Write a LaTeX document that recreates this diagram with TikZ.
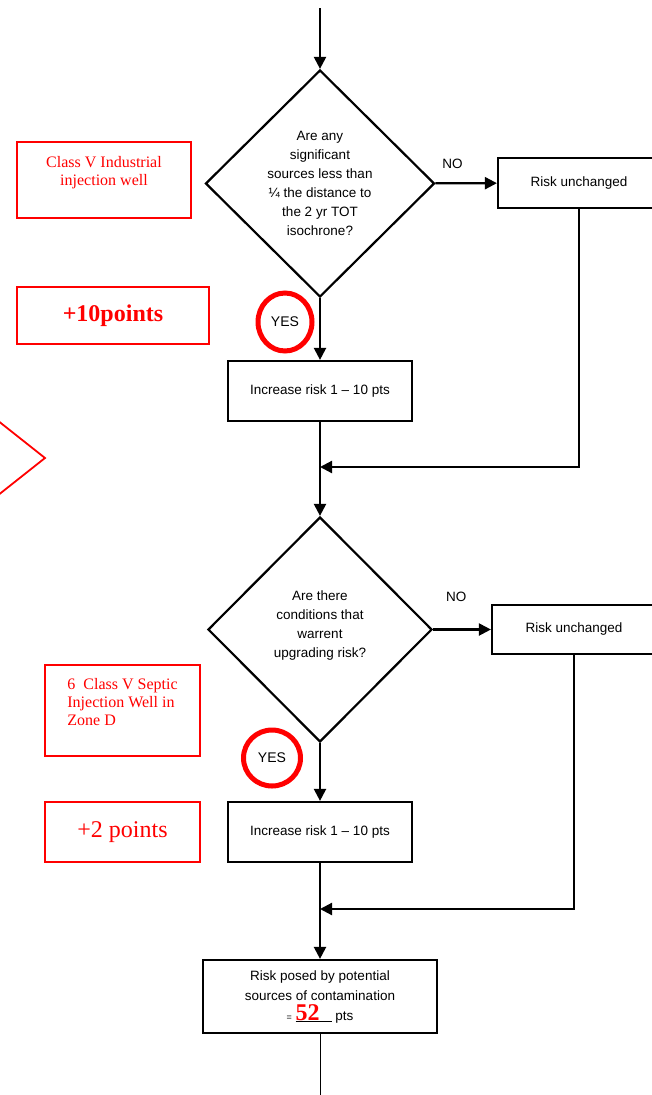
\documentclass[tikz,border=0pt]{standalone}
\usepackage{fontspec}
\setmainfont{Liberation Sans}
\newfontfamily\notefont{Liberation Serif}
\usetikzlibrary{shapes.geometric,arrows.meta}

\begin{document}
\begin{tikzpicture}[x=1pt,y=-1pt,line width=2.2pt,
	flow/.style={-{Triangle[length=12pt,width=12pt]}},
	decision/.style={draw,diamond,aspect=1,inner sep=0pt,align=center,font=\fontsize{13.5}{19}\selectfont},
	stepbox/.style={draw,rectangle,inner sep=0pt,align=center,font=\fontsize{13.5}{20}\selectfont},
	note/.style={draw=red,line width=1.8pt,rectangle,inner sep=0pt,align=center,text=red,font=\notefont\fontsize{16}{18}\selectfont},
	ring/.style={draw=red,line width=5pt,ellipse,inner sep=0pt,font=\fontsize{14}{14}\selectfont}]
			\useasboundingbox (0,0) rectangle (652,1095);
			\coordinate (top) at (320,8);
			\node[decision,minimum width=229pt,minimum height=227pt] (q1) at (320,183.5) {Are any\\significant\\sources less than\\¼ the distance to\\the 2 yr TOT\\isochrone?};
			\node[stepbox,minimum width=162pt,minimum height=50pt] (no1) at (579,183) {Risk unchanged};
			\node[stepbox,minimum width=184pt,minimum height=60pt] (inc1) at (320,391) {Increase risk 1 -- 10 pts};
			\coordinate (m1) at (320,467);
			\node[decision,minimum width=224pt,minimum height=225pt] (q2) at (320,629.5) {Are there\\conditions that\\warrent\\upgrading risk?\\[-8pt]\mbox{}};
			\node[stepbox,minimum width=164pt,minimum height=49pt] (no2) at (574,629.5) {Risk unchanged};
			\node[stepbox,minimum width=184pt,minimum height=60pt] (inc2) at (320,832) {Increase risk 1 -- 10 pts};
			\coordinate (m2) at (320,909);
			\node[stepbox,minimum width=234pt,minimum height=73pt] (total) at (320,996.5) {Risk posed by potential\\sources of contamination\\{\fontsize{9}{9}\selectfont =} \underline{\textcolor{red}{\notefont\bfseries\fontsize{24}{20}\selectfont 52}\hspace{12pt}} pts};
			\coordinate (bot) at (320,1100);
			\draw[flow] (top) -- (q1);
			\draw[flow] (q1) -- node[pos=0.28,above=14pt,inner sep=0pt,font=\fontsize{13.5}{13}\selectfont] {NO} (no1);
			\draw[flow] (q1) -- (inc1);
			\draw[flow] (no1.south) |- (m1);
			\draw[flow] (inc1) -- (q2);
			\draw[flow] (q2) -- node[pos=0.4,above=27pt,inner sep=0pt,font=\fontsize{13.5}{13}\selectfont] {NO} (no2);
			\draw[flow] (q2) -- (inc2);
			\draw[flow] (no2.south) |- (m2);
			\draw[flow] (inc2) -- (total);
			\draw[line width=1pt] (total) -- (bot);
			\node[note,minimum width=174pt,minimum height=76pt] (cls1) at (104,180) {Class V Industrial\\injection well\\\mbox{}};
			\node[note,minimum width=192pt,minimum height=57pt,font=\notefont\bfseries\fontsize{24}{26}\selectfont] (pts1) at (113,315.5) {+10points};
			\node[ring,minimum width=54pt,minimum height=58pt] (yes1) at (285,322) {YES};
			\node[note,minimum width=155pt,minimum height=91pt,align=left] (cls2) at (122.5,710.5) {6\ \ Class V Septic\\Injection Well in\\Zone D\\\mbox{}};
			\node[note,minimum width=155pt,minimum height=60pt,font=\notefont\fontsize{24}{26}\selectfont] (pts2) at (122.5,832) {+2 points};
			\node[ring,minimum width=57pt,minimum height=56pt] (yes2) at (272,758) {YES};
			\draw[red,line width=1.8pt] (-3,420) -- (45,458) -- (-3,496);
			\end{tikzpicture}
\end{document}
